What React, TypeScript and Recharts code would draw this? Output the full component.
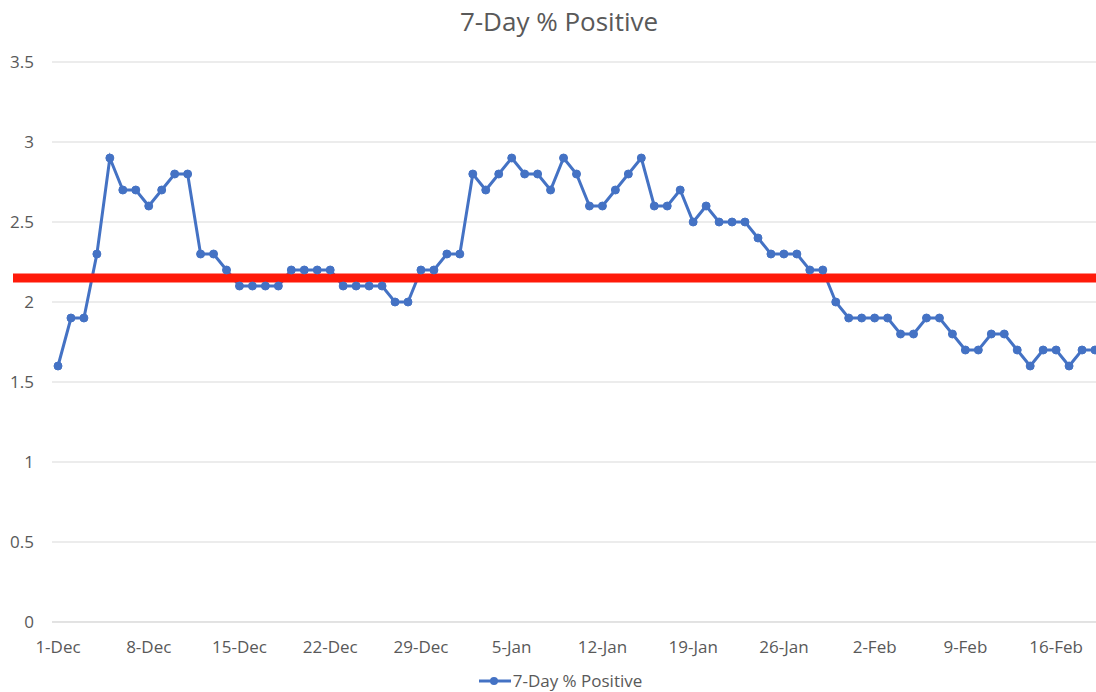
import React from "react";
import {
  LineChart,
  Line,
  XAxis,
  YAxis,
  CartesianGrid,
  ReferenceLine,
  Legend,
} from "recharts";

const dates = [
  "1-Dec","2-Dec","3-Dec","4-Dec","5-Dec","6-Dec","7-Dec","8-Dec","9-Dec","10-Dec",
  "11-Dec","12-Dec","13-Dec","14-Dec","15-Dec","16-Dec","17-Dec","18-Dec","19-Dec","20-Dec",
  "21-Dec","22-Dec","23-Dec","24-Dec","25-Dec","26-Dec","27-Dec","28-Dec","29-Dec","30-Dec",
  "31-Dec","1-Jan","2-Jan","3-Jan","4-Jan","5-Jan","6-Jan","7-Jan","8-Jan","9-Jan",
  "10-Jan","11-Jan","12-Jan","13-Jan","14-Jan","15-Jan","16-Jan","17-Jan","18-Jan","19-Jan",
  "20-Jan","21-Jan","22-Jan","23-Jan","24-Jan","25-Jan","26-Jan","27-Jan","28-Jan","29-Jan",
  "30-Jan","31-Jan","1-Feb","2-Feb","3-Feb","4-Feb","5-Feb","6-Feb","7-Feb","8-Feb",
  "9-Feb","10-Feb","11-Feb","12-Feb","13-Feb","14-Feb","15-Feb","16-Feb","17-Feb","18-Feb",
  "19-Feb",
];

const positiveRate = [
  1.6, 1.9, 1.9, 2.3, 2.9, 2.7, 2.7, 2.6, 2.7, 2.8,
  2.8, 2.3, 2.3, 2.2, 2.1, 2.1, 2.1, 2.1, 2.2, 2.2,
  2.2, 2.2, 2.1, 2.1, 2.1, 2.1, 2.0, 2.0, 2.2, 2.2,
  2.3, 2.3, 2.8, 2.7, 2.8, 2.9, 2.8, 2.8, 2.7, 2.9,
  2.8, 2.6, 2.6, 2.7, 2.8, 2.9, 2.6, 2.6, 2.7, 2.5,
  2.6, 2.5, 2.5, 2.5, 2.4, 2.3, 2.3, 2.3, 2.2, 2.2,
  2.0, 1.9, 1.9, 1.9, 1.9, 1.8, 1.8, 1.9, 1.9, 1.8,
  1.7, 1.7, 1.8, 1.8, 1.7, 1.6, 1.7, 1.7, 1.6, 1.7,
  1.7,
];

const yTicks = [0, 0.5, 1, 1.5, 2, 2.5, 3, 3.5];
const threshold = 2.15;
const seriesName = "7-Day % Positive";
const title = "7-Day % Positive";

const data = dates.map((d, i) => ({ date: d, value: positiveRate[i] }));

const FONT = "'Open Sans', sans-serif";
const TEXT = "#595959";
const BLUE = "#4472C4";

const RedLine = (props: any) => {
  const { x1, x2, y1, y2 } = props;
  return (
    <line
      x1={x1 - 39}
      x2={x2}
      y1={y1}
      y2={y2}
      stroke="#FF1A0A"
      strokeWidth={9}
    />
  );
};

const LegendContent = () => (
  <div
    style={{
      display: "flex",
      justifyContent: "center",
      alignItems: "center",
      fontFamily: FONT,
      fontSize: 17,
      color: TEXT,
      marginTop: 9,
      paddingLeft: 20,
      lineHeight: "20px",
    }}
  >
    <svg width={32} height={12} style={{ marginRight: 2 }}>
      <line x1={0} x2={32} y1={6} y2={6} stroke={BLUE} strokeWidth={3} />
      <circle cx={15} cy={6} r={4} fill={BLUE} />
    </svg>
    <span>{seriesName}</span>
  </div>
);

export default function App() {
  return (
    <div
      style={{
        position: "absolute",
        left: 0,
        top: 0,
        width: 1096,
        height: 692,
        overflow: "hidden",
        background: "#fff",
      }}
    >
      <div
        style={{
          position: "absolute",
          left: 0,
          top: 3,
          width: 1118,
          textAlign: "center",
          fontFamily: FONT,
          fontSize: 26,
          lineHeight: "36px",
          color: TEXT,
        }}
      >
        {title}
      </div>
      <LineChart
        width={1110}
        height={692}
        data={data}
        margin={{ top: 62, right: 9, left: 0, bottom: 0 }}
      >
        <CartesianGrid vertical={false} stroke="#d9d9d9" strokeWidth={1} />
        <XAxis
          dataKey="date"
          interval={6}
          padding={{ left: 6, right: 6 }}
          tickLine={false}
          axisLine={{ stroke: "#d9d9d9" }}
          tick={{ fill: TEXT, fontSize: 17, fontFamily: FONT }}
          tickMargin={13}
          height={40}
        />
        <YAxis
          domain={[0, 3.5]}
          ticks={yTicks}
          width={52}
          axisLine={false}
          tickLine={false}
          tickSize={0}
          tickMargin={18}
          tick={{ fill: TEXT, fontSize: 17, fontFamily: FONT }}
        />
        <Legend
          verticalAlign="bottom"
          height={30}
          content={<LegendContent />}
        />
        <Line
          type="linear"
          dataKey="value"
          name={seriesName}
          stroke={BLUE}
          strokeWidth={3}
          dot={{ r: 4, fill: BLUE, stroke: BLUE, strokeWidth: 1 }}
          isAnimationActive={false}
        />
        <ReferenceLine y={threshold} shape={RedLine} ifOverflow="visible" />
      </LineChart>
    </div>
  );
}
